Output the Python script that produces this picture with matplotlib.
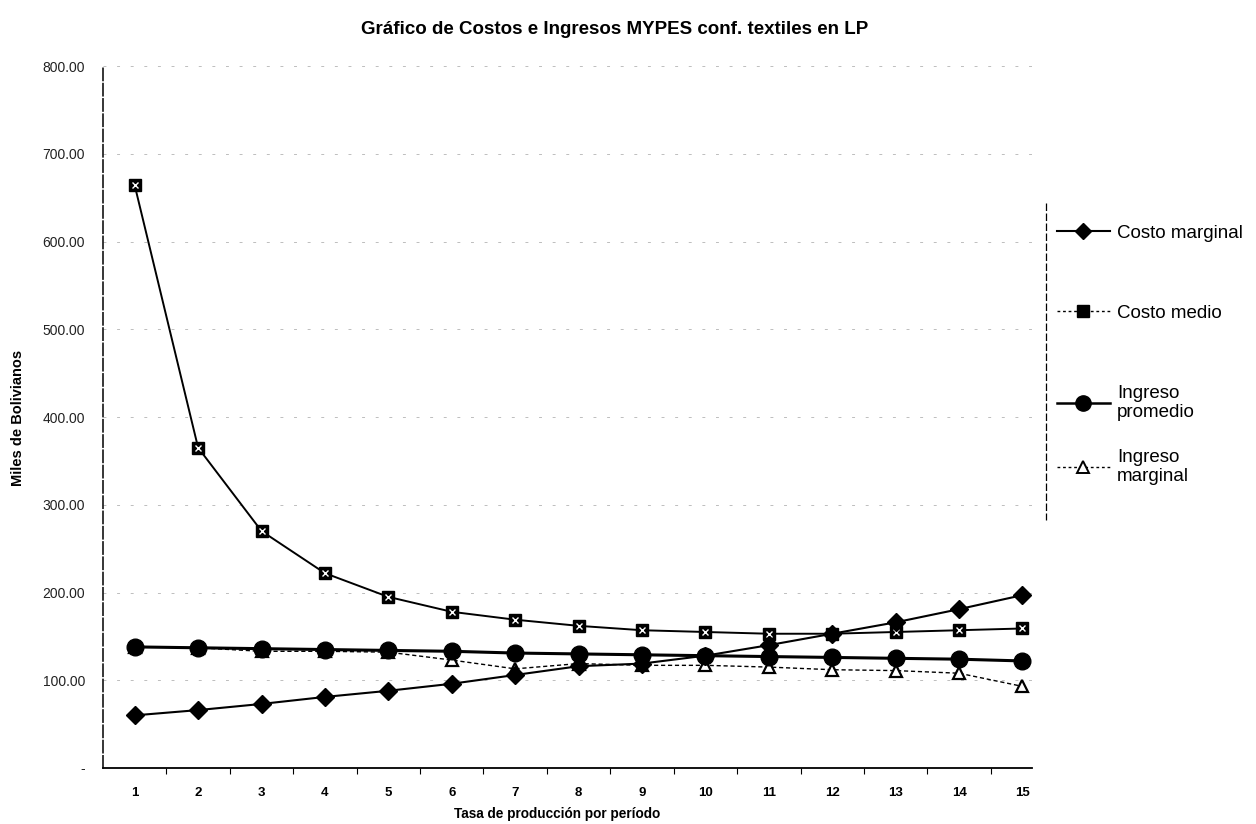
import matplotlib
matplotlib.use('Agg')
import matplotlib.pyplot as plt
from matplotlib.lines import Line2D

plt.rcParams['font.family'] = ['Liberation Sans', 'DejaVu Sans']

# ---- data ----
periods = list(range(1, 16))
costo_marginal = [60, 66, 73, 81, 88, 96, 106, 116, 119, 128, 140, 153, 166, 181, 197]
costo_medio = [664, 365, 270, 222, 195, 178, 169, 162, 157, 155, 153, 153, 155, 157, 159]
ingreso_promedio = [138, 137, 136, 135, 134, 133, 131, 130, 129, 128, 127, 126, 125, 124, 122]
ingreso_marginal = [138, 137, 133, 133, 132, 123, 113, 119, 117, 117, 115, 112, 111, 108, 93]
y_ticks = [0, 100, 200, 300, 400, 500, 600, 700, 800]
y_tick_labels = ['-', '100.00', '200.00', '300.00', '400.00', '500.00', '600.00', '700.00', '800.00']
series_names = ['Costo marginal', 'Costo medio', 'Ingreso\npromedio', 'Ingreso\nmarginal']
title = 'Gráfico de Costos e Ingresos MYPES conf. textiles en LP'
x_title = 'Tasa de producción por período'
y_title = 'Miles de Bolivianos'

W, H = 1256, 824
fig = plt.figure(figsize=(W / 100, H / 100), dpi=100)
ax = fig.add_axes([103 / W, 1 - 768 / H, (1032 - 103) / W, (768 - 66) / H])

# gridlines (faint, broken like the scan)
for yv in y_ticks[1:]:
    ax.axhline(yv, color='#bdbdbd', lw=0.7, dashes=(3, 11), zorder=0)

# series
ax.plot(periods, ingreso_marginal, color='black', lw=1.0, ls=(0, (3, 2)),
        marker='^', ms=9, mfc='white', mec='black', mew=1.6, zorder=3)
ax.plot(periods, costo_medio, color='black', lw=1.4,
        marker='s', ms=9, mfc='black', mec='black', zorder=4)
ax.plot(periods, costo_medio, ls='none', marker='x', ms=4.5, mec='white', mew=1.0, zorder=5)
ax.plot(periods, ingreso_promedio, color='black', lw=2.2,
        marker='o', ms=12, mfc='black', mec='black', zorder=4)
ax.plot(periods, costo_marginal, color='black', lw=1.5,
        marker='D', ms=9, mfc='black', mec='black', zorder=6)

ax.set_xlim(0.5, 15.15)
ax.set_ylim(0, 800)
ax.set_yticks(y_ticks)
ax.set_yticklabels(y_tick_labels)
ax.set_xticks(periods)
ax.set_xticks([p + 0.5 for p in periods[:-1]], minor=True)
ax.tick_params(axis='x', which='major', length=0, pad=14, labelsize=9.5)
ax.tick_params(axis='x', which='minor', length=4, width=0.8, direction='out')
ax.tick_params(axis='y', which='major', length=0, pad=13, labelsize=10, labelcolor='#222222')
for lab in ax.get_xticklabels():
    lab.set_fontweight('bold')

for s in ['top', 'right']:
    ax.spines[s].set_visible(False)
ax.spines['left'].set_linestyle((0, (8, 2)))
ax.spines['left'].set_linewidth(1.1)
ax.spines['bottom'].set_linewidth(1.3)

fig.text(615 / W, 1 - 30 / H, title, ha='center', va='center', fontsize=13.5, fontweight='bold')
fig.text(557 / W, 1 - 814 / H, x_title, ha='center', va='center', fontsize=9.8, fontweight='bold')
fig.text(18 / W, 1 - 418 / H, y_title, ha='center', va='center', rotation=90,
         fontsize=10.5, fontweight='bold')

# legend (one entry per row, placed as in the reference)
handles = [
    Line2D([], [], color='black', lw=1.5, marker='D', ms=8, mfc='black'),
    Line2D([], [], color='black', lw=1.0, ls=(0, (2, 2)), marker='s', ms=8, mfc='black'),
    Line2D([], [], color='black', lw=1.8, marker='o', ms=11, mfc='black'),
    Line2D([], [], color='black', lw=1.0, ls=(0, (2, 2)), marker='^', ms=8, mfc='white', mew=1.4),
]
legend_rows_y = [233, 313, 403, 467]
for h, name, yc in zip(handles, series_names, legend_rows_y):
    fig.legend([h], [name], loc='center left', bbox_to_anchor=(1057 / W, 1 - yc / H),
               frameon=False, fontsize=13.5, handlelength=2.8, handletextpad=0.4,
               borderpad=0, borderaxespad=0)
fig.add_artist(Line2D([1046 / W, 1046 / W], [1 - 203 / H, 1 - 520 / H],
                      transform=fig.transFigure, color='black', lw=0.9, ls=(0, (6, 2))))

fig.savefig('out.png', dpi=100)
